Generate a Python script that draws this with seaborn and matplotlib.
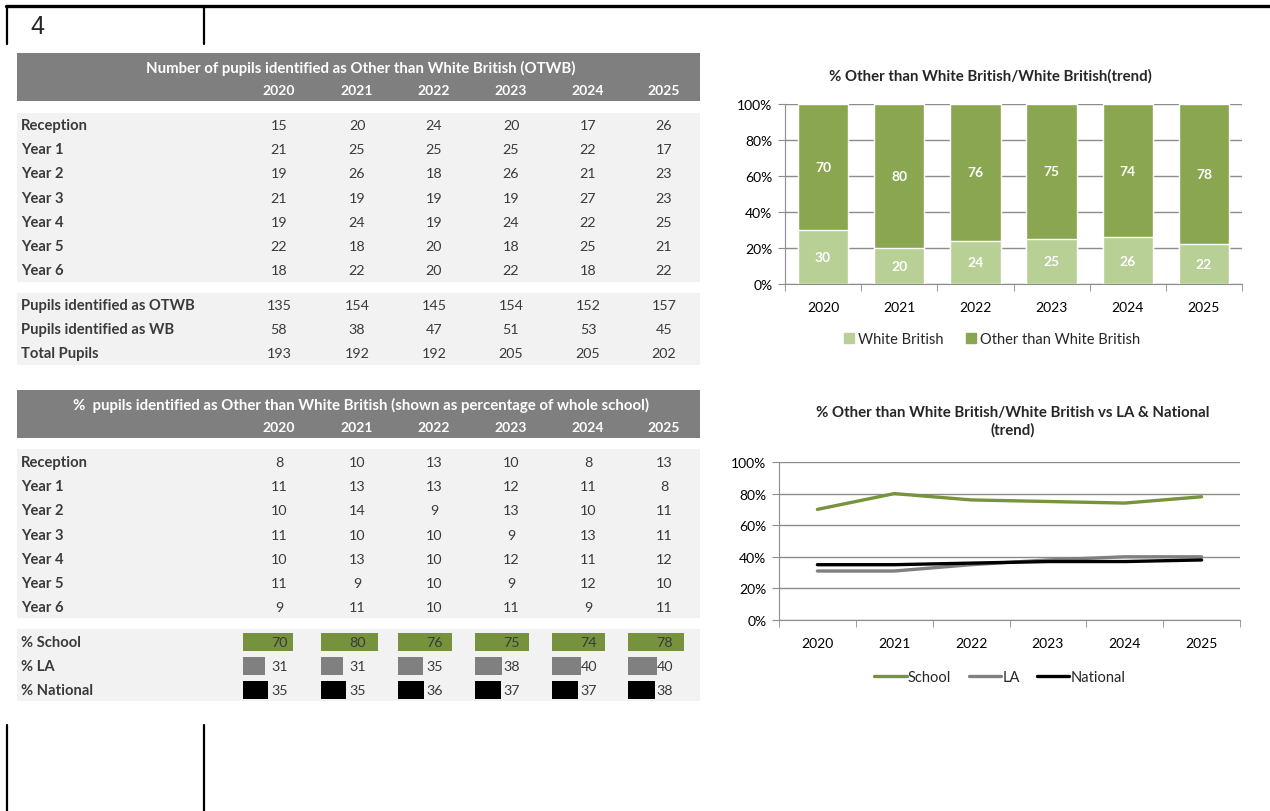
import numpy as np
import pandas as pd
import seaborn as sns
import matplotlib.pyplot as plt
from matplotlib.patches import Rectangle, Patch
from matplotlib.lines import Line2D

years = ['2020', '2021', '2022', '2023', '2024', '2025']
year_groups = ['Reception', 'Year 1', 'Year 2', 'Year 3', 'Year 4', 'Year 5', 'Year 6']

# counts of OTWB pupils, one row per year group
otwb_counts = [[15, 20, 24, 20, 17, 26],
               [21, 25, 25, 25, 22, 17],
               [19, 26, 18, 26, 21, 23],
               [21, 19, 19, 19, 27, 23],
               [19, 24, 19, 24, 22, 25],
               [22, 18, 20, 18, 25, 21],
               [18, 22, 20, 22, 18, 22]]
pupils_otwb = [135, 154, 145, 154, 152, 157]
pupils_wb = [58, 38, 47, 51, 53, 45]
total_pupils = [193, 192, 192, 205, 205, 202]

# % of whole school, one row per year group
otwb_pct_groups = [[8, 10, 13, 10, 8, 13],
                   [11, 13, 13, 12, 11, 8],
                   [10, 14, 9, 13, 10, 11],
                   [11, 10, 10, 9, 13, 11],
                   [10, 13, 10, 12, 11, 12],
                   [11, 9, 10, 9, 12, 10],
                   [9, 11, 10, 11, 9, 11]]
school_pct = [70, 80, 76, 75, 74, 78]
la_pct = [31, 31, 35, 38, 40, 40]
national_pct = [35, 35, 36, 37, 37, 38]
wb_pct = [30, 20, 24, 25, 26, 22]

sns.set_style('white')
plt.rcParams['font.family'] = ['Lato', 'DejaVu Sans']

W, H = 1270, 812
fig = plt.figure(figsize=(12.7, 8.12), dpi=100)
bg = fig.add_axes([0, 0, 1, 1])
bg.set_xlim(0, W)
bg.set_ylim(H, 0)
bg.axis('off')

txt = '#3a3a3a'
head_grey = '#7f7f7f'
band = '#f2f2f2'
col_x = [279, 357, 434, 511, 588, 664]

# page frame bits
bg.plot([6, W], [7, 7], color='black', lw=2.4)
for x in [7, 204]:
    bg.plot([x, x], [7, 45], color='black', lw=1.6)
    bg.plot([x, x], [726, 812], color='black', lw=1.6)
bg.text(30, 27, '4', fontsize=18, family='Liberation Sans', va='center', ha='left')


def header(y0, title):
    bg.add_patch(Rectangle((17, y0), 683, 48, color=head_grey, lw=0))
    bg.text(361, y0 + 14, title, color='white', fontsize=10.8, weight='bold', ha='center', va='center')
    for x, yr in zip(col_x, years):
        bg.text(x, y0 + 37, yr, color='white', fontsize=10, weight='bold', ha='center', va='center')


def rows(y0, labels, values, step=24.2):
    for i, (lab, vals) in enumerate(zip(labels, values)):
        y = y0 + i * step
        bg.text(21, y, lab, color=txt, fontsize=10.6, weight='bold', va='center')
        if vals is None:
            continue
        for x, v in zip(col_x, vals):
            bg.text(x, y, str(v), color=txt, fontsize=10.3, ha='center', va='center')


# table 1
header(54, 'Number of pupils identified as Other than White British (OTWB)')
bg.add_patch(Rectangle((17, 114), 683, 169, color=band, lw=0))
rows(126, year_groups, otwb_counts)
bg.add_patch(Rectangle((17, 294), 683, 72, color=band, lw=0))
rows(306, ['Pupils identified as OTWB', 'Pupils identified as WB', 'Total Pupils'],
     [pupils_otwb, pupils_wb, total_pupils])

# table 2
header(391, '%  pupils identified as Other than White British (shown as percentage of whole school)')
bg.add_patch(Rectangle((17, 450), 683, 169, color=band, lw=0))
rows(463, year_groups, otwb_pct_groups)
bg.add_patch(Rectangle((17, 630), 683, 72, color=band, lw=0))
rows(643, ['% School', '% LA', '% National'], [None, None, None])
bar_cols = ['#76923c', '#808080', '#000000']
for j, (series, c) in enumerate(zip([school_pct, la_pct, national_pct], bar_cols)):
    y = 643 + j * 24.2
    for x, v in zip(col_x, series):
        bg.add_patch(Rectangle((x - 36, y - 9), v * 0.715, 18, color=c, lw=0))
        bg.text(x + 9, y, str(v), color=txt, fontsize=10.3, ha='right', va='center')


def px_axes(x0, y0, x1, y1):
    return fig.add_axes([x0 / W, 1 - y1 / H, (x1 - x0) / W, (y1 - y0) / H])


def style_axes(ax):
    ax.set_ylim(0, 100)
    ax.set_yticks(range(0, 101, 20))
    ax.set_yticklabels([f'{v}%' for v in range(0, 101, 20)], fontsize=10, color='black')
    ax.yaxis.grid(True, color='#8c8c8c', lw=1)
    ax.set_axisbelow(True)
    for s in ['top', 'right']:
        ax.spines[s].set_visible(False)
    for s in ['left', 'bottom']:
        ax.spines[s].set_color('#8c8c8c')
    ax.tick_params(axis='y', left=True, length=5, color='#8c8c8c', pad=4)
    ax.tick_params(axis='x', which='major', length=0, pad=12, labelsize=10, labelcolor='black')
    ax.set_xticks(np.arange(-0.5, 6, 1), minor=True)
    ax.tick_params(axis='x', which='minor', bottom=True, length=5, color='#8c8c8c')
    ax.set_xlabel('')
    ax.set_ylabel('')


# stacked bar chart
dark_green = '#8aa650'
light_green = '#b8cf95'
bar_df = pd.DataFrame({'year': years, 'wb': wb_pct, 'otwb': school_pct})
bar_df['total'] = bar_df['wb'] + bar_df['otwb']
ax1 = px_axes(785, 105, 1242, 285)
sns.barplot(data=bar_df, x='year', y='total', color=dark_green, width=0.66, saturation=1, ax=ax1)
sns.barplot(data=bar_df, x='year', y='wb', color=light_green, width=0.66, saturation=1, ax=ax1)
style_axes(ax1)
ax1.set_xlim(-0.5, 5.5)
for i, (w, o) in enumerate(zip(wb_pct, school_pct)):
    ax1.text(i, w / 2, str(w), color='white', fontsize=10, weight='bold', ha='center', va='center')
    ax1.text(i, w + o / 2, str(o), color='white', fontsize=10, weight='bold', ha='center', va='center')
fig.text(990 / W, 1 - 76 / H, '% Other than White British/White British(trend)', fontsize=10.8,
         weight='bold', ha='center', va='center')
fig.legend(handles=[Patch(color=light_green, label='White British'),
                    Patch(color=dark_green, label='Other than White British')],
           loc='center', bbox_to_anchor=(992 / W, 1 - 340 / H), ncol=2, frameon=False,
           fontsize=10.5, handlelength=0.7, handleheight=0.7, handletextpad=0.3, columnspacing=1.5)

# line chart
line_df = pd.DataFrame({'year': list(range(6)) * 3,
                        'pct': school_pct + la_pct + national_pct,
                        'series': ['School'] * 6 + ['LA'] * 6 + ['National'] * 6})
line_cols = {'School': '#77933c', 'LA': '#808080', 'National': '#000000'}
ax2 = px_axes(779, 463, 1240, 621)
sns.lineplot(data=line_df, x='year', y='pct', hue='series', palette=line_cols, lw=2.4,
             legend=False, ax=ax2)
style_axes(ax2)
ax2.set_xlim(-0.5, 5.5)
ax2.set_xticks(range(6))
ax2.set_xticklabels(years)
fig.text(1013 / W, 1 - 422 / H, '% Other than White British/White British vs LA & National\n(trend)',
         fontsize=10.8, weight='bold', ha='center', va='center', linespacing=1.3)
fig.legend(handles=[Line2D([], [], color=c, lw=2.4, label=k) for k, c in line_cols.items()],
           loc='center', bbox_to_anchor=(1000 / W, 1 - 678 / H), ncol=3, frameon=False,
           fontsize=10.5, handlelength=2.2, handletextpad=0.1, columnspacing=1.2)

fig.savefig('out.png', dpi=100)
